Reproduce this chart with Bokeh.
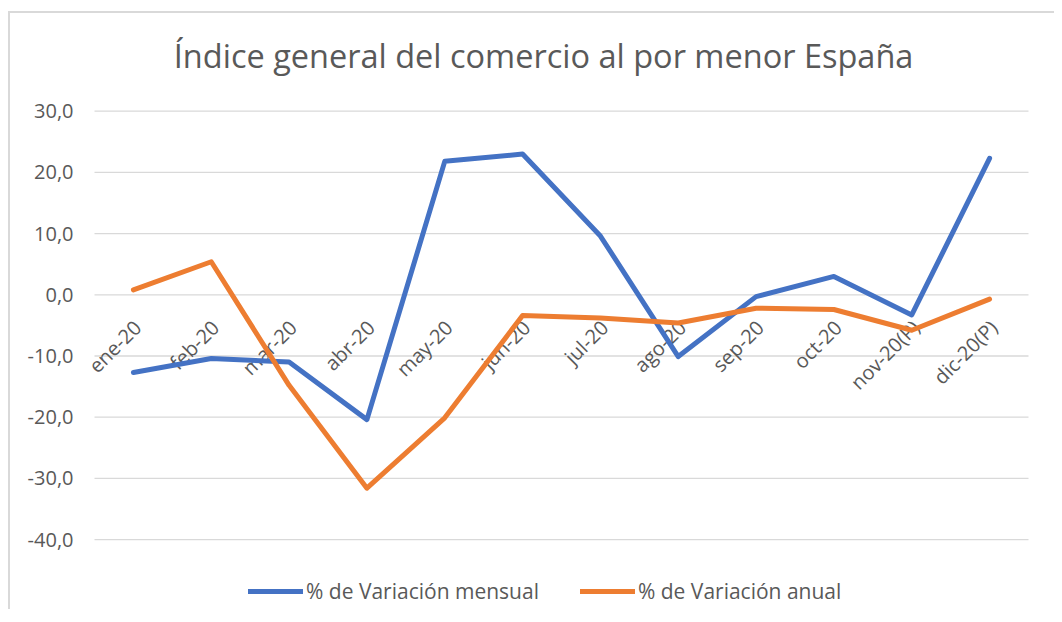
from bokeh.plotting import figure
from bokeh.models import Range1d, FactorRange, FixedTicker, Legend, LegendItem, ColumnDataSource
from bokeh.embed import file_html
from bokeh.resources import INLINE
import math

categories = ["ene-20", "feb-20", "mar-20", "abr-20", "may-20", "jun-20",
              "jul-20", "ago-20", "sep-20", "oct-20", "nov-20(P)", "dic-20(P)"]
mensual = [-12.7, -10.4, -11.0, -20.4, 21.8, 23.0, 9.6, -10.1, -0.3, 3.0, -3.3, 22.3]
anual = [0.8, 5.4, -14.8, -31.6, -20.1, -3.4, -3.8, -4.6, -2.2, -2.4, -5.8, -0.7]
y_ticks = [-40, -30, -20, -10, 0, 10, 20, 30]
y_tick_labels = ["-40,0", "-30,0", "-20,0", "-10,0", "0,0", "10,0", "20,0", "30,0"]
title_text = "Índice general del comercio al por menor España"
series_names = ["% de Variación mensual", "% de Variación anual"]
colors = ["#4472C4", "#ED7D31"]

FONT = "Open Sans"
GRAY = "#595959"

# the frame spans the whole height; the y range runs past -40 and 30 to leave
# room for the title and the legend; gridlines are drawn on the ticks only
x_range = FactorRange(*categories, range_padding=0.18, range_padding_units="absolute")
p = figure(x_range=x_range, y_range=Range1d(-51.75, 45.96),
           width=1046, height=598, output_backend="svg", toolbar_location=None,
           min_border_left=70, min_border_right=14, min_border_top=0, min_border_bottom=0)
p.styles = {"border-left": "2px solid #d9d9d9", "border-top": "2px solid #d9d9d9",
            "margin-left": "8px", "margin-top": "11px"}

p.outline_line_color = None
p.background_fill_color = "white"
p.border_fill_color = "white"
p.xgrid.grid_line_color = None
p.ygrid.grid_line_color = None

# horizontal gridlines across the category area (synthetic coords 0..n)
n = len(categories)
p.segment(x0=[0] * len(y_ticks), x1=[n] * len(y_ticks), y0=y_ticks, y1=y_ticks,
          line_color="#d9d9d9", line_width=1.3)

p.yaxis.ticker = FixedTicker(ticks=y_ticks)
p.yaxis.major_label_overrides = {t: l for t, l in zip(y_ticks, y_tick_labels)}
p.yaxis.axis_line_color = None
p.yaxis.major_tick_line_color = None
p.yaxis.minor_tick_line_color = None
p.yaxis.major_label_text_font = FONT
p.yaxis.major_label_text_font_size = "20px"
p.yaxis.major_label_text_color = GRAY
p.yaxis.major_label_standoff = 1

p.xaxis.visible = False

# chart title, placed above the top gridline
p.text(x=[categories[5]], y=[y_ticks[-1]], text=[title_text],
       text_align="center", text_baseline="middle", x_offset=21, y_offset=-56,
       text_font={"value": FONT}, text_font_size="32.5px", text_color=GRAY)

# category labels drawn along the zero line, as Excel does
lab_src = ColumnDataSource(dict(x=categories, y=[0] * n, t=categories))
p.text(x="x", y="y", text="t", source=lab_src, angle=math.pi / 4,
       text_align="right", text_baseline="middle", x_offset=4, y_offset=29,
       text_font={"value": FONT}, text_font_size="20px", text_color=GRAY)

r1 = p.line(categories, mensual, line_color=colors[0], line_width=5,
            line_join="round", line_cap="round")
r2 = p.line(categories, anual, line_color=colors[1], line_width=5,
            line_join="round", line_cap="round")

legend = Legend(items=[LegendItem(label=series_names[0], renderers=[r1]),
                       LegendItem(label=series_names[1], renderers=[r2])],
                orientation="horizontal", location=(168, 6),
                glyph_width=55, glyph_height=20, label_standoff=3, spacing=41,
                padding=0, margin=0, border_line_color=None,
                background_fill_alpha=0,
                label_text_font=FONT, label_text_font_size="21px", label_text_color=GRAY)
p.add_layout(legend, "center")

open("out.html", "w").write(file_html(p, INLINE))
